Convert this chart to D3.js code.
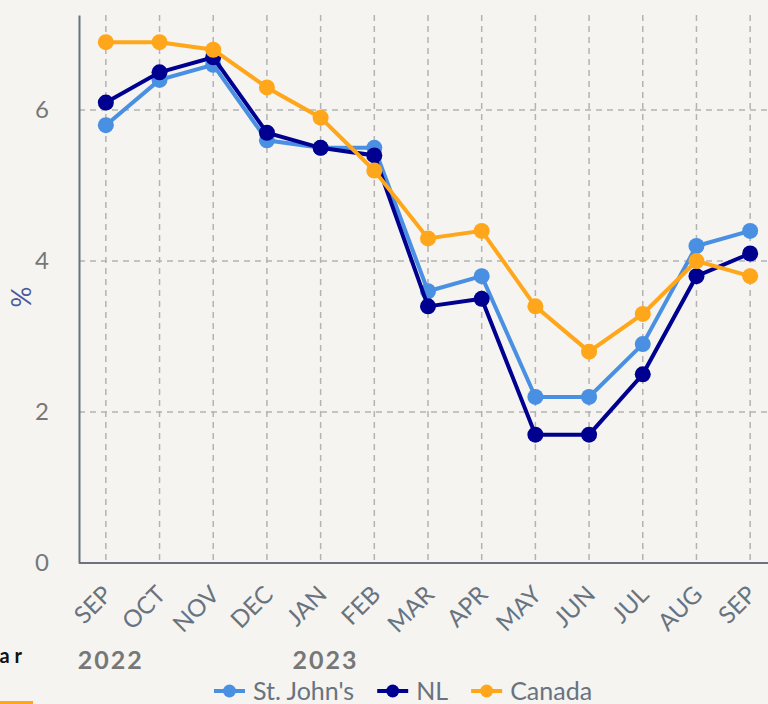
<!DOCTYPE html>
<html>
<head>
<meta charset="utf-8">
<script src="https://cdn.jsdelivr.net/npm/d3@7"></script>
<style>
  html, body { margin: 0; padding: 0; background: #f5f4f1; overflow: hidden; }
  svg { display: block; font-family: Lato, "Open Sans", sans-serif; }
</style>
</head>
<body>
<svg id="chart" width="768" height="704"></svg>
<script>
let months = ["SEP","OCT","NOV","DEC","JAN","FEB","MAR","APR","MAY","JUN","JUL","AUG","SEP"];
let years = [{label:"2022", at:0}, {label:"2023", at:4}];
let stJohns = [5.8, 6.4, 6.6, 5.6, 5.5, 5.5, 3.6, 3.8, 2.2, 2.2, 2.9, 4.2, 4.4];
let nl      = [6.1, 6.5, 6.7, 5.7, 5.5, 5.4, 3.4, 3.5, 1.7, 1.7, 2.5, 3.8, 4.1];
let canada  = [6.9, 6.9, 6.8, 6.3, 5.9, 5.2, 4.3, 4.4, 3.4, 2.8, 3.3, 4.0, 3.8];
let yTicks = [0, 2, 4, 6];

let series = [
    {name: "St. John's", values: stJohns, color: "#4a90e2"},
    {name: "NL", values: nl, color: "#000090"},
    {name: "Canada", values: canada, color: "#ffa61a"}
];

let svg = d3.select("#chart");
let plotLeft = 79, plotRight = 777, plotTop = 15, plotBottom = 563;

// index based points so repeated "SEP" stays distinct
let xMap = d3.scalePoint()
    .domain(d3.range(months.length))
    .range([plotLeft, plotRight])
    .padding(0.5);
let yMap = d3.scaleLinear()
    .domain([0, 7.26])
    .range([plotBottom, plotTop]);

// grid
let grid = svg.append("g");
grid.selectAll("line.v").data(d3.range(months.length)).enter().append("line")
    .attr("x1", d => xMap(d)).attr("x2", d => xMap(d))
    .attr("y1", plotTop).attr("y2", plotBottom)
    .attr("stroke", "#b3b3b3").attr("stroke-width", 1.5)
    .attr("stroke-dasharray", "6,5");
grid.selectAll("line.h").data(yTicks.filter(d => d > 0)).enter().append("line")
    .attr("x1", plotLeft).attr("x2", 768)
    .attr("y1", d => yMap(d)).attr("y2", d => yMap(d))
    .attr("stroke", "#b3b3b3").attr("stroke-width", 1.5)
    .attr("stroke-dasharray", "6,5");

// axes
let yAxis = svg.append("g")
    .attr("transform", `translate(${plotLeft},0)`)
    .call(d3.axisLeft(yMap).tickValues(yTicks).tickSize(0).tickPadding(30));
yAxis.select(".domain").attr("stroke", "#6b7280").attr("stroke-width", 2);
yAxis.selectAll("text")
    .attr("fill", "#777").style("font-size", "24px").style("font-family", "Lato");

let xAxis = svg.append("g")
    .attr("transform", `translate(0,${plotBottom})`)
    .call(d3.axisBottom(xMap).tickSize(0).tickFormat(i => months[i]));
xAxis.select(".domain").attr("stroke", "#6b7280").attr("stroke-width", 2)
    .attr("d", `M${plotLeft},0H768`);
xAxis.selectAll("text")
    .attr("fill", "#68737f").style("font-size", "24px").style("font-family", "Lato")
    .attr("text-anchor", "end")
    .attr("dy", "0.35em")
    .attr("transform", "translate(-1,25) rotate(-45)");

// y label
svg.append("text")
    .attr("transform", "translate(31,297) rotate(-90)")
    .attr("text-anchor", "middle")
    .attr("fill", "#4a5a9a")
    .style("font-size", "26px")
    .text("%");

// year labels
svg.selectAll("text.year").data(years).enter().append("text")
    .attr("class", "year")
    .attr("x", d => xMap(d.at) + 5)
    .attr("y", 669)
    .attr("text-anchor", "middle")
    .attr("fill", "#777")
    .style("font-size", "25px").style("font-weight", "bold")
    .style("letter-spacing", "2px")
    .text(d => d.label);

// clipped pieces at left edge
svg.append("text")
    .attr("x", 27).attr("y", 663)
    .attr("text-anchor", "end")
    .attr("fill", "#111")
    .style("font-size", "20px").style("font-weight", "bold")
    .style("letter-spacing", "5px")
    .text("Year");
svg.append("rect")
    .attr("x", 0).attr("y", 701).attr("width", 33).attr("height", 3)
    .attr("fill", "#ffa61a");

// lines
let line = d3.line()
    .x((d, i) => xMap(i))
    .y(d => yMap(d));

series.forEach(s => {
    let g = svg.append("g");
    g.append("path")
        .datum(s.values)
        .attr("d", line)
        .attr("fill", "none")
        .attr("stroke", s.color)
        .attr("stroke-width", 4);
    g.selectAll("circle").data(s.values).enter().append("circle")
        .attr("cx", (d, i) => xMap(i))
        .attr("cy", d => yMap(d))
        .attr("r", 8)
        .attr("fill", s.color);
});

// legend
let legend = svg.append("g").attr("transform", "translate(0,691)");
let lx = 214;
series.forEach(s => {
    let item = legend.append("g").attr("transform", `translate(${lx},0)`);
    item.append("line")
        .attr("x1", 0).attr("x2", 31).attr("y1", 0).attr("y2", 0)
        .attr("stroke", s.color).attr("stroke-width", 4);
    item.append("circle").attr("cx", 15.5).attr("cy", 0).attr("r", 6.5).attr("fill", s.color);
    let t = item.append("text")
        .attr("x", 39).attr("y", 0).attr("dy", "0.35em")
        .attr("fill", "#68737f")
        .style("font-size", "25px")
        .text(s.name);
    lx += 39 + t.node().getComputedTextLength() + 23;
});
</script>
</body>
</html>
